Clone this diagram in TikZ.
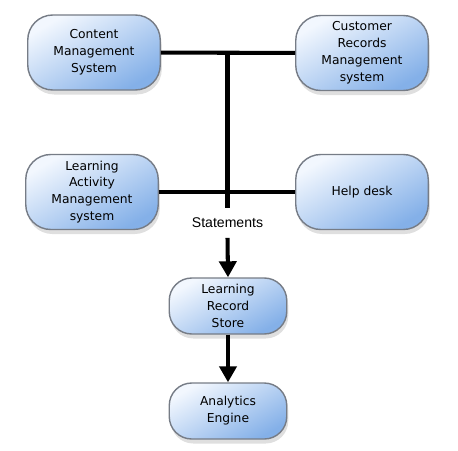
\documentclass[tikz,border=0pt]{standalone}
\usepackage{fontspec}
\setmainfont{DejaVu Sans}
\newfontfamily\labelfont{Liberation Sans}
\usepackage{xcolor}
\usepackage{tikz}
\usetikzlibrary{arrows.meta,positioning,shadows}

\definecolor{boxtop}{RGB}{242,247,254}
\definecolor{boxbot}{RGB}{132,176,232}
\definecolor{boxline}{RGB}{118,124,134}

\begin{document}
\begin{tikzpicture}[
  sys/.style={draw=boxline,line width=0.8pt,rounded corners=0.5cm,align=center,
              inner sep=2pt,font=\fontsize{7}{9.6}\selectfont,
              minimum width=2.65cm,minimum height=1.5cm,
              top color=boxtop,bottom color=boxbot,shading angle=30,
              drop shadow={shadow xshift=0.3mm,shadow yshift=-0.9mm,opacity=0.25}},
  core/.style={sys,minimum width=2.35cm,minimum height=1.12cm,rounded corners=0.45cm},
  link/.style={line width=2.3pt},
  arr/.style={link,-{Triangle[length=3.2mm,width=3.4mm]}}
]
\useasboundingbox (0,0) rectangle (9.16,9);
\node[sys] (cms)  at (1.88,7.95) {Content\\Management\\System};
\node[sys] (crms) at (7.24,7.94) {Customer\\Records\\Management\\system};
\node[sys] (lams) at (1.84,5.16) {Learning\\Activity\\Management\\system};
\node[sys] (help) at (7.24,5.16) {Help desk};
\node[font=\labelfont\fontsize{8}{9.6}\selectfont,inner sep=0pt,minimum height=0.58cm]
  (stmt) at (4.55,4.54) {Statements};
\node[core] (lrs) at (4.56,2.88) {Learning\\Record\\Store};
\node[core] (ae)  at (4.56,0.78) {Analytics\\Engine};
\coordinate (hub) at (cms -| stmt);
\draw[link] (cms) -- (crms);
\draw[link] (lams) -- (help);
\draw[link] (hub) -- (stmt.north);
\draw[arr] (stmt.south) -- (lrs.north);
\draw[arr] (lrs) -- (ae);
\end{tikzpicture}
\end{document}
